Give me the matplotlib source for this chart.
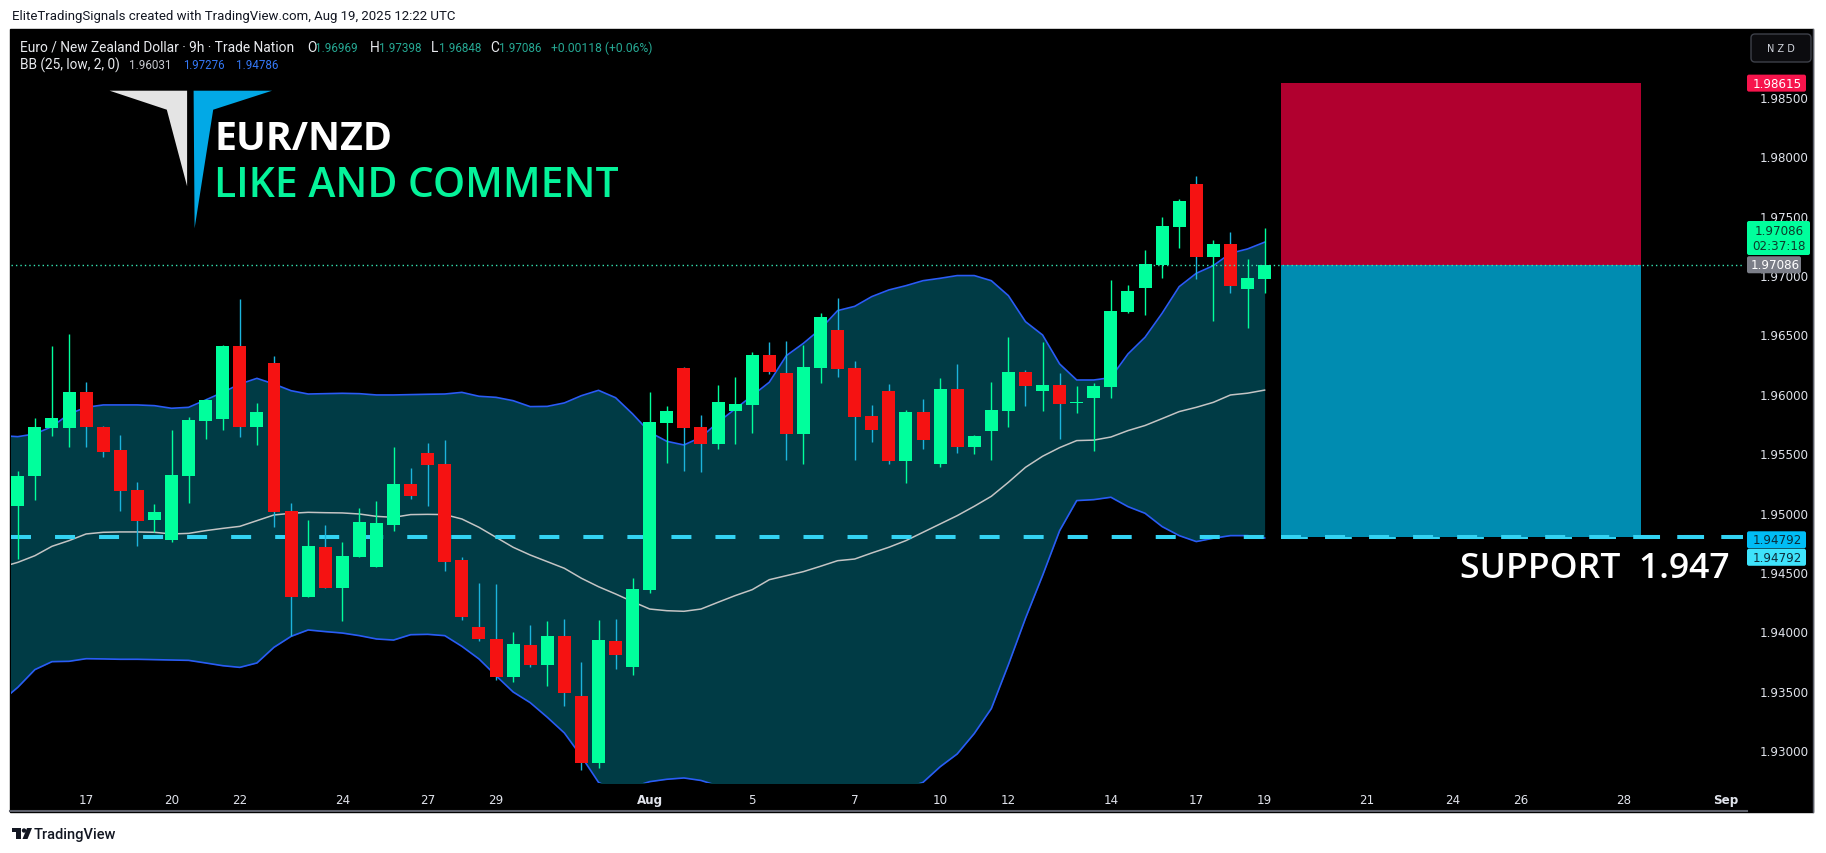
import matplotlib
matplotlib.use('Agg')
import matplotlib.pyplot as plt
from matplotlib.patches import Rectangle, Polygon, FancyBboxPatch, Circle
import numpy as np

W, H = 1826, 854

# ---- candle data (9h bars, Jul 16 -> Aug 19) ----
opens = [1.95058, 1.95311, 1.95715, 1.95715, 1.96015, 1.95720, 1.95527, 1.95190, 1.94940, 1.94772,
         1.95311, 1.95774, 1.95791, 1.96402, 1.95723, 1.96259, 1.95013, 1.94292, 1.94710, 1.94368,
         1.94629, 1.94545, 1.94898, 1.95241, 1.95502, 1.95409, 1.94601, 1.94037, 1.93936, 1.93619,
         1.93885, 1.93720, 1.93961, 1.93456, 1.92895, 1.93919, 1.93703, 1.94348, 1.95757, 1.96217,
         1.95720, 1.95580, 1.95858, 1.95908, 1.96326, 1.96175, 1.95664, 1.96220, 1.96537, 1.96217,
         1.95813, 1.96023, 1.95437, 1.95847, 1.95412, 1.96040, 1.95555, 1.95690, 1.95858, 1.96183,
         1.96026, 1.96074, 1.95920, 1.95967, 1.96060, 1.96691, 1.96893, 1.97087, 1.97407, 1.97766,
         1.97154, 1.97261, 1.96885, 1.96969]
highs = [1.95347, 1.95796, 1.96402, 1.96503, 1.96099, 1.95732, 1.95653, 1.95258, 1.95072, 1.95695,
         1.95805, 1.95956, 1.96411, 1.96795, 1.95923, 1.96318, 1.95081, 1.94938, 1.94896, 1.94752,
         1.95039, 1.95098, 1.95555, 1.95375, 1.95586, 1.95611, 1.94629, 1.94407, 1.94399, 1.93995,
         1.94054, 1.94087, 1.94104, 1.93742, 1.94096, 1.94104, 1.94449, 1.96012, 1.95897, 1.96226,
         1.95821, 1.96074, 1.96141, 1.96352, 1.96436, 1.96444, 1.96411, 1.96680, 1.96806, 1.96276,
         1.95906, 1.96082, 1.95864, 1.95956, 1.96133, 1.96251, 1.95653, 1.96099, 1.96478, 1.96200,
         1.96436, 1.96175, 1.96066, 1.96091, 1.96958, 1.96916, 1.97210, 1.97488, 1.97640, 1.97833,
         1.97295, 1.97362, 1.97135, 1.97398]
lows = [1.94609, 1.95109, 1.95648, 1.95555, 1.95555, 1.95471, 1.95016, 1.94722, 1.94834, 1.94750,
        1.95084, 1.95622, 1.95698, 1.95639, 1.95572, 1.94882, 1.93961, 1.94292, 1.94368, 1.94090,
        1.94629, 1.94545, 1.94848, 1.95114, 1.95058, 1.94511, 1.94099, 1.93922, 1.93594, 1.93577,
        1.93703, 1.93543, 1.93375, 1.92836, 1.92853, 1.93686, 1.93635, 1.94320, 1.95420, 1.95353,
        1.95344, 1.95538, 1.95580, 1.95673, 1.96169, 1.95446, 1.95412, 1.96094, 1.96144, 1.95446,
        1.95597, 1.95412, 1.95252, 1.95538, 1.95387, 1.95504, 1.95496, 1.95446, 1.95723, 1.95900,
        1.95858, 1.95622, 1.95841, 1.95521, 1.95967, 1.96683, 1.96666, 1.96977, 1.97230, 1.96969,
        1.96616, 1.96851, 1.96557, 1.96848]
closes = [1.95308, 1.95720, 1.95796, 1.96015, 1.95723, 1.95513, 1.95185, 1.94932, 1.95005, 1.95316,
          1.95779, 1.95948, 1.96402, 1.95723, 1.95847, 1.95008, 1.94292, 1.94719, 1.94368, 1.94635,
          1.94921, 1.94912, 1.95241, 1.95143, 1.95403, 1.94587, 1.94124, 1.93939, 1.93619, 1.93894,
          1.93720, 1.93961, 1.93484, 1.92895, 1.93927, 1.93804, 1.94357, 1.95763, 1.95855, 1.95715,
          1.95580, 1.95931, 1.95914, 1.96326, 1.96186, 1.95664, 1.96226, 1.96646, 1.96211, 1.95807,
          1.95698, 1.95437, 1.95847, 1.95614, 1.96040, 1.95555, 1.95645, 1.95864, 1.96183, 1.96068,
          1.96074, 1.95917, 1.95931, 1.96066, 1.96697, 1.96865, 1.97093, 1.97412, 1.97623, 1.97154,
          1.97261, 1.96910, 1.96975, 1.97086]

# ---- Bollinger bands (25, low, 2), one value before the first visible bar ----
bb_upper = [1.95648, 1.95639, 1.95662, 1.95723, 1.95830, 1.95886, 1.95906, 1.95906, 1.95906, 1.95900,
            1.95878, 1.95886, 1.95948, 1.96012, 1.96082, 1.96130, 1.96082, 1.96026, 1.95998, 1.96001,
            1.96004, 1.96001, 1.95990, 1.95990, 1.95993, 1.95996, 1.95998, 1.96012, 1.95979, 1.95970,
            1.95942, 1.95892, 1.95894, 1.95923, 1.95984, 1.96029, 1.95967, 1.95830, 1.95676, 1.95600,
            1.95569, 1.95634, 1.95760, 1.95872, 1.95984, 1.96097, 1.96321, 1.96425, 1.96546, 1.96700,
            1.96736, 1.96818, 1.96874, 1.96910, 1.96952, 1.96972, 1.96995, 1.96995, 1.96952, 1.96826,
            1.96607, 1.96495, 1.96251, 1.96116, 1.96116, 1.96136, 1.96335, 1.96476, 1.96678, 1.96902,
            1.97014, 1.97079, 1.97183, 1.97219, 1.97276]
bb_mid = [1.94539, 1.94581, 1.94637, 1.94716, 1.94764, 1.94820, 1.94834, 1.94837, 1.94837, 1.94834,
          1.94820, 1.94825, 1.94848, 1.94867, 1.94884, 1.94932, 1.94980, 1.94994, 1.95002, 1.94999,
          1.94997, 1.94988, 1.94968, 1.94960, 1.94983, 1.94985, 1.94983, 1.94946, 1.94876, 1.94792,
          1.94708, 1.94643, 1.94587, 1.94531, 1.94447, 1.94376, 1.94315, 1.94250, 1.94188, 1.94174,
          1.94169, 1.94188, 1.94245, 1.94301, 1.94351, 1.94435, 1.94469, 1.94503, 1.94548, 1.94595,
          1.94609, 1.94660, 1.94708, 1.94764, 1.94834, 1.94904, 1.94974, 1.95053, 1.95137, 1.95255,
          1.95381, 1.95474, 1.95547, 1.95606, 1.95610, 1.95636, 1.95690, 1.95733, 1.95791, 1.95850,
          1.95886, 1.95928, 1.95990, 1.96005, 1.96031]
bb_lower = [1.93408, 1.93529, 1.93678, 1.93745, 1.93748, 1.93770, 1.93768, 1.93765, 1.93765, 1.93762,
            1.93759, 1.93756, 1.93734, 1.93711, 1.93697, 1.93734, 1.93866, 1.93958, 1.94012, 1.93998,
            1.93986, 1.93964, 1.93936, 1.93927, 1.93972, 1.93975, 1.93964, 1.93874, 1.93768, 1.93627,
            1.93490, 1.93400, 1.93277, 1.93145, 1.92947, 1.92729, 1.92660, 1.92690, 1.92735, 1.92755,
            1.92766, 1.92745, 1.92700, 1.92640, 1.92590, 1.92550, 1.92510, 1.92490, 1.92480, 1.92490,
            1.92520, 1.92570, 1.92630, 1.92680, 1.92729, 1.92860, 1.92968, 1.93140, 1.93350, 1.93720,
            1.94110, 1.94470, 1.94848, 1.95101, 1.95109, 1.95129, 1.95050, 1.94994, 1.94882, 1.94806,
            1.94756, 1.94784, 1.94806, 1.94806, 1.94786]

date_ticks = [4, 9, 13, 19, 24, 28, 37, 43, 49, 54, 58, 64, 69, 73, 79, 84, 88, 94, 100]
date_labels = ['17', '20', '22', '24', '27', '29', 'Aug', '5', '7', '10', '12', '14', '17', '19',
               '21', '24', '26', '28', 'Sep']
price_ticks = [1.930, 1.935, 1.940, 1.945, 1.950, 1.955, 1.960, 1.965, 1.970, 1.975, 1.980, 1.985]

entry = 1.97086
stop = 1.98615
support = 1.94792
box_from, box_to = 73.96, 95.03
y_top, y_bot = 1.990707, 1.927236

GREEN = '#00ff9c'
RED = '#f51212'

fig = plt.figure(figsize=(W / 100, H / 100), dpi=100)
fig.patch.set_facecolor('white')


def frac(x0, y0, x1, y1):
    return [x0 / W, 1 - y1 / H, (x1 - x0) / W, (y1 - y0) / H]


def py(p):
    # price -> pixel row of the chart pane
    return 30 + (y_top - p) / (y_top - y_bot) * 754


bg = fig.add_axes([0, 0, 1, 1], zorder=-1)
bg.set_xlim(0, W)
bg.set_ylim(H, 0)
bg.axis('off')
bg.add_patch(Rectangle((10, 30), 1803, 783, color='black'))
bg.plot([10, 1747], [812, 812], color='#5d606b', lw=1.5)
bg.plot([1813, 1813], [30, 813], color='#5d606b', lw=1.0)

ax = fig.add_axes(frac(11, 30, 1743, 784))
ax.set_facecolor('none')
for s in ax.spines.values():
    s.set_visible(False)

x = np.arange(len(opens))
bx = np.arange(-1, len(opens))

ax.fill_between(bx, bb_lower, bb_upper, color='#003b45', lw=0, zorder=1)
ax.plot(bx, bb_upper, color='#2a5cf5', lw=1.2, zorder=2)
ax.plot(bx, bb_lower, color='#2a5cf5', lw=1.2, zorder=2)
ax.plot(bx, bb_mid, color='#c4c4c4', lw=1.1, zorder=2)

# support line under the candles
sl = ax.axhline(support, color='#33d3f3', lw=2.9, zorder=2.5)
sl.set_dashes((14.4 / 2.9, 17.3 / 2.9))
sl.set_dash_capstyle('butt')

o = np.array(opens)
c = np.array(closes)
up = c >= o
body_col = [GREEN if u else RED for u in up]
wick_col = [GREEN if u else '#1cb4dc' for u in up]
ax.vlines(x, lows, highs, colors=wick_col, lw=1.0, zorder=3)
hgt = np.maximum(np.abs(c - o), 0.00012)
ax.bar(x, hgt, bottom=np.minimum(o, c), width=0.76, color=body_col, lw=0, zorder=3.5)

# position tool
ax.add_patch(Rectangle((box_from, entry), box_to - box_from, stop - entry, color='#b1002f', lw=0, zorder=4))
ax.add_patch(Rectangle((box_from, support), box_to - box_from, entry - support, color='#008cb1', lw=0, zorder=4))
ax.axhline(entry, color='#35e6b4', lw=1.0, linestyle=(0, (1, 2.2)), zorder=5)
sl2 = ax.axhline(support, xmin=(box_from + 0.4) / 101.4, color='#33d3f3', lw=2.9, zorder=4.5)
sl2.set_dashes((14.4 / 2.9, 17.3 / 2.9))
sl2.set_dash_capstyle('butt')

ax.set_xlim(-0.398, 101.01)
ax.set_ylim(y_bot, y_top)
ax.yaxis.tick_right()
ax.set_yticks(price_ticks, ['%.5f' % p for p in price_ticks])
ax.set_xticks(date_ticks, date_labels)
ax.tick_params(axis='y', length=0, pad=12, labelcolor='#e0e3eb', labelsize=8.6)
ax.tick_params(axis='x', length=0, pad=7, labelcolor='#e0e3eb', labelsize=8.6)
for lbl in ax.get_xticklabels():
    if lbl.get_text() in ('Aug', 'Sep'):
        lbl.set_fontweight('bold')

# ---- foreground decorations ----
fg = fig.add_axes([0, 0, 1, 1], zorder=5)
fg.set_xlim(0, W)
fg.set_ylim(H, 0)
fg.axis('off')
fg.patch.set_alpha(0)

renderer = fig.canvas.get_renderer()


def fit(t, width):
    w = t.get_window_extent(renderer).width
    t.set_fontsize(t.get_fontsize() * width / w)
    return t


fit(fg.text(12, 16.5, 'EliteTradingSignals created with TradingView.com, Aug 19, 2025 12:22 UTC',
            color='#131722', fontsize=9, va='center', family='Roboto'), 446)

VAL = '#26a994'
WHT = '#e8eaee'
LEG = dict(fontsize=8.2, va='center', family='Roboto')
head = fit(fg.text(20, 48, 'Euro / New Zealand Dollar \u00b7 9h \u00b7 Trade Nation', color=WHT, **LEG), 277)
letter_size = head.get_fontsize()
for xl, lab, xv, val in [(307, 'O', 315.5, '1.96969'), (370, 'H', 379, '1.97398'),
                         (431, 'L', 439, '1.96848'), (490, 'C', 499, '1.97086')]:
    fg.text(xl, 48, lab, color=WHT, fontsize=letter_size, va='center', family='Roboto')
    fit(fg.text(xv, 48, val, color=VAL, **LEG), 42)
fit(fg.text(551, 48, '+0.00118 (+0.06%)', color=VAL, **LEG), 102)
fit(fg.text(20, 65.5, 'BB (25, low, 2, 0)', color=WHT, **LEG), 100)
fit(fg.text(129.5, 65.5, '1.96031', color='#c8cad0', **LEG), 42)
fit(fg.text(183, 65.5, '1.97276', color='#3478f6', **LEG), 42)
fit(fg.text(236, 65.5, '1.94786', color='#3478f6', **LEG), 42)

# logo + headline
fg.add_patch(Polygon([(109.6, 91.7), (187.1, 91.7), (187.1, 187.3), (166.8, 110.7)], color='#e4e4e4', lw=0))
fg.add_patch(Polygon([(193.6, 91.7), (272.1, 91.7), (213.2, 110.7), (194.6, 229.3)], color='#02a9e6', lw=0))
fit(fg.text(214, 150, 'EUR/NZD', color='white', fontsize=30, family='Open Sans',
            fontweight='bold', va='baseline'), 178)
fit(fg.text(214, 197, 'LIKE AND COMMENT', color='#05f39a', fontsize=30, family='Open Sans',
            fontweight='semibold', va='baseline'), 404)
fit(fg.text(1460, 578, 'SUPPORT  1.947', color='white', fontsize=23, family='Open Sans',
            fontweight='semibold', va='baseline'), 270)

# price scale labels
LAB = dict(fontsize=8.6, ha='center', va='center')


def tag(p_center, text, face, tcol, x1=1806, h=17):
    fg.add_patch(FancyBboxPatch((1747, p_center - h / 2), x1 - 1747, h,
                                boxstyle='round,pad=0,rounding_size=2', fc=face, ec='none'))
    fg.text((1747 + x1) / 2 + 1, p_center, text, color=tcol, **LAB)


tag(py(stop), '%.5f' % stop, '#f7144c', 'white')
fg.add_patch(FancyBboxPatch((1747, 222), 63, 34, boxstyle='round,pad=0,rounding_size=2',
                            fc='#00ff9c', ec='none'))
fg.text(1779, 231.5, '%.5f' % entry, color='#0c3b2a', **LAB)
fg.text(1779, 247, '02:37:18', color='#0c3b2a', **LAB)
tag(py(entry), '%.5f' % entry, '#7b7e88', 'white', x1=1801)
tag(py(support) + 2.5, '%.5f' % support, '#00bdf6', '#0d2c3a')
tag(py(support) + 20, '%.5f' % support, '#3ee3fb', '#0d2c3a')

fg.add_patch(FancyBboxPatch((1751, 35), 60, 28, boxstyle='round,pad=0,rounding_size=4',
                            fc='#0c0c0f', ec='#3d4049', lw=1))
fg.text(1781, 49.5, 'N Z D', color='#d1d4dc', fontsize=7, ha='center', va='center')

# TradingView footer
fg.add_patch(Rectangle((12, 829), 9, 4, color='#131722', lw=0))
fg.add_patch(Rectangle((16, 829), 5, 11, color='#131722', lw=0))
fg.add_patch(Circle((24, 831.5), 2.2, color='#131722', lw=0))
fg.add_patch(Polygon([(27, 829), (32, 829), (27.5, 840), (22.5, 840)], color='#131722', lw=0))
fit(fg.text(34, 835, 'TradingView', color='#131722', fontsize=9, va='center', family='Roboto',
            fontweight='medium'), 82)

fig.savefig('out.png', dpi=100, facecolor='white')
